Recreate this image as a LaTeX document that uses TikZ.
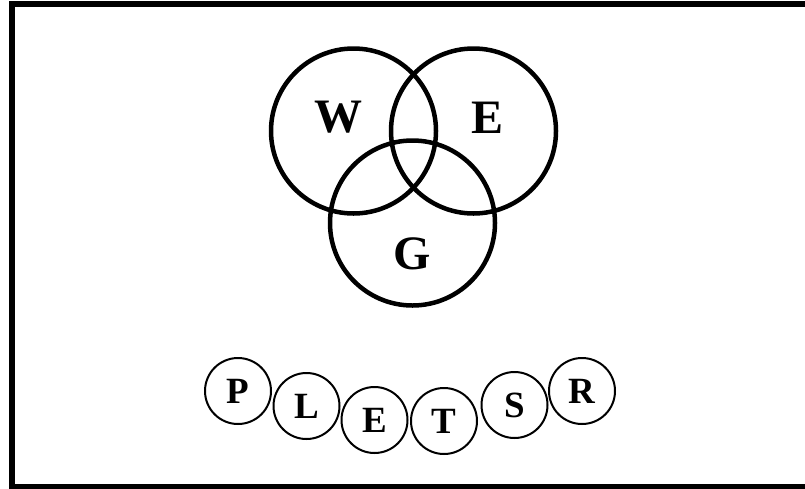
\documentclass[tikz,border=0pt]{standalone}
\usepackage{fontspec}
\setmainfont{Liberation Serif}
\begin{document}
\begin{tikzpicture}[x=1pt,y=-1pt,
  venn/.style={draw=black,line width=4.5pt,circle,minimum size=165pt,inner sep=0pt},
  vlabel/.style={font=\fontsize{48}{50}\selectfont\bfseries,inner sep=0pt},
  ball/.style={draw=black,line width=2pt,circle,minimum size=66pt,inner sep=0pt,font=\fontsize{37}{39}\selectfont\bfseries}]
\useasboundingbox (0,0) rectangle (805,488);
\clip (0,0) rectangle (805,488);
\draw[line width=6pt] (12,4) rectangle (812,487);
% Venn circles
\node[venn] (cw) at (353.5,131) {};
\node[venn] (ce) at (473.5,131) {};
\node[venn] (cg) at (412.5,223) {};
\node[vlabel] (lw) at (338.5,117) {W};
\node[vlabel] (le) at (487,117.5) {E};
\node[vlabel] (lg) at (412.5,254) {G};
% letter balls
\node[ball] (bp) at (238,391) {P};
\node[ball] (bl) at (306.5,406) {L};
\node[ball] (be) at (374.5,420) {E};
\node[ball] (bt) at (444,421) {T};
\node[ball] (bs) at (514.5,405) {S};
\node[ball] (br) at (582,391) {R};
\end{tikzpicture}
\end{document}
